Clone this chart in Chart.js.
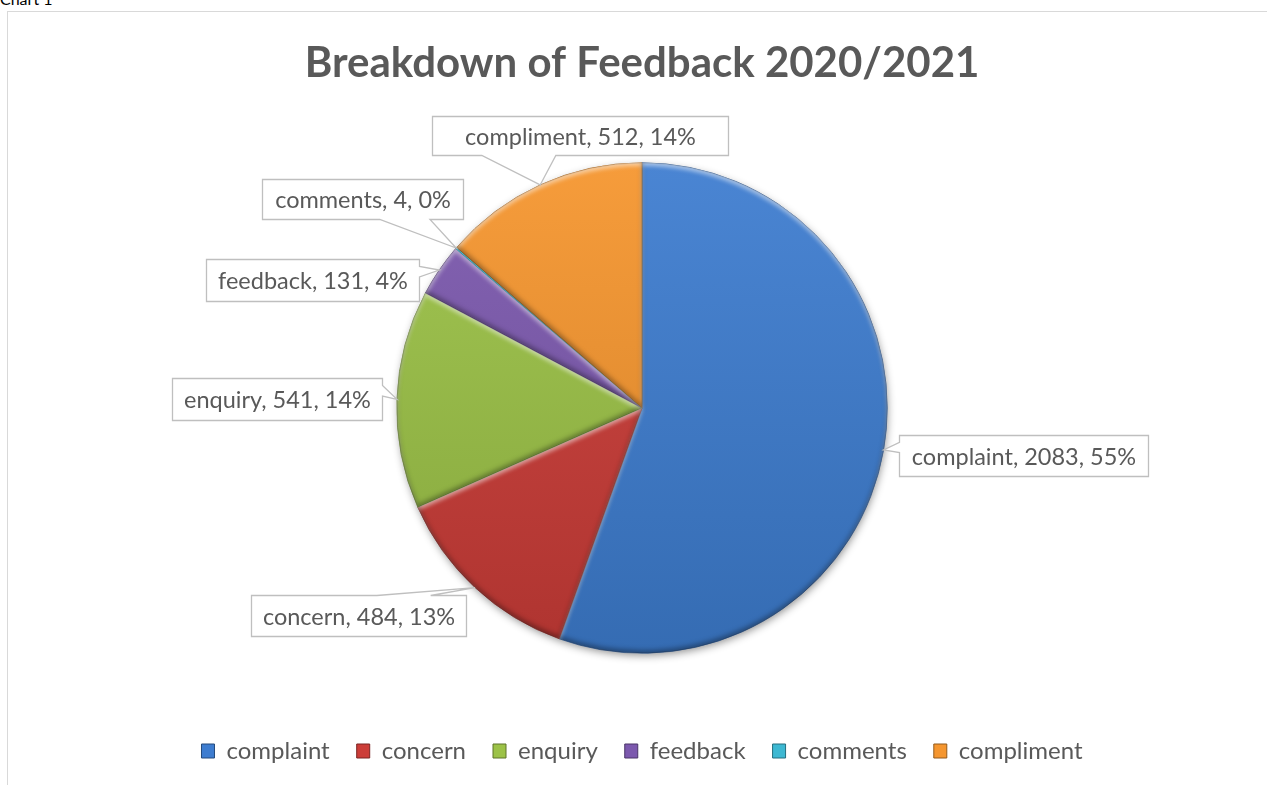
<!DOCTYPE html>
<html>
<head>
<meta charset="utf-8">
<title>Breakdown of Feedback 2020/2021</title>
<script src="https://cdn.jsdelivr.net/npm/chart.js@4.4.1/dist/chart.umd.min.js"></script>
<style>
    html, body { margin: 0; padding: 0; background: #fff; overflow: hidden; }
    body { width: 1267px; height: 785px; position: relative; }
    #caption { position: absolute; left: 0; top: -9px; font: 16px Lato, sans-serif; line-height: 16px; color: #000; }
    #frame { position: absolute; left: 7px; top: 11px; width: 1300px; height: 800px; border: 1px solid #d9d9d9; }
    #wrap { position: absolute; left: 8px; top: 12px; width: 1268px; height: 773px; }
</style>
</head>
<body>
<div id="caption">Chart 1</div>
<div id="frame"></div>
<div id="wrap"><canvas id="feedbackChart"></canvas></div>
<script>
const categories = ['complaint', 'concern', 'enquiry', 'feedback', 'comments', 'compliment'];
const counts = [2083, 484, 541, 131, 4, 512];
const sliceColors = ['#3e7dd0', '#cc3d38', '#9cc247', '#7c59ae', '#3db8d2', '#f5962f'];

// callout boxes: centre offset from the pie centre, and box size (px)
const calloutOffsets = [
    [381, 47], [-284, 207], [-365, -9], [-330, -128], [-280, -209], [-62, -273]
];
const calloutSizes = [
    [249, 41], [215, 41], [210, 42], [213, 42], [201, 40], [296, 39]
];

const textGrey = '#595959';
const fontFamily = 'Lato, "Open Sans", sans-serif';
const labelFont = '23.5px ' + fontFamily;

function shade(hex, amt) {
    let n = parseInt(hex.slice(1), 16);
    let r = n >> 16, g = (n >> 8) & 255, b = n & 255;
    const f = (c) => {
        let v = amt < 0 ? c * (1 + amt) : c + (255 - c) * amt;
        return Math.max(0, Math.min(255, Math.round(v)));
    };
    return 'rgb(' + f(r) + ',' + f(g) + ',' + f(b) + ')';
}

// Percentages rounded so they add up to 100 (largest remainder)
function roundedPercents(values) {
    const total = values.reduce((a, b) => a + b, 0);
    const raw = values.map((v) => v * 100 / total);
    const out = raw.map(Math.floor);
    let left = 100 - out.reduce((a, b) => a + b, 0);
    const order = raw.map((v, i) => [v - Math.floor(v), i]).sort((a, b) => b[0] - a[0]);
    for (let k = 0; k < left; k++) {
        out[order[k][1]]++;
    }
    return out;
}

const percents = roundedPercents(counts);

function wedgeCallout(ctx, l, t, w, h, tx, ty) {
    const cx = l + w / 2, cy = t + h / 2;
    const dx = tx - cx, dy = ty - cy;
    const dq = dx * h / w;
    ctx.beginPath();
    ctx.moveTo(l, t);
    if (Math.abs(dy) > Math.abs(dq)) {
        const x1 = l + w * (dx > 0 ? 7 : 2) / 12;
        const x2 = l + w * (dx > 0 ? 10 : 5) / 12;
        if (dy < 0) {
            ctx.lineTo(x1, t); ctx.lineTo(tx, ty); ctx.lineTo(x2, t);
        }
        ctx.lineTo(l + w, t);
        ctx.lineTo(l + w, t + h);
        if (dy > 0) {
            ctx.lineTo(x2, t + h); ctx.lineTo(tx, ty); ctx.lineTo(x1, t + h);
        }
        ctx.lineTo(l, t + h);
    } else {
        const y1 = t + h * (dy > 0 ? 7 : 2) / 12;
        const y2 = t + h * (dy > 0 ? 10 : 5) / 12;
        ctx.lineTo(l + w, t);
        if (dx > 0) {
            ctx.lineTo(l + w, y1); ctx.lineTo(tx, ty); ctx.lineTo(l + w, y2);
        }
        ctx.lineTo(l + w, t + h);
        ctx.lineTo(l, t + h);
        if (dx < 0) {
            ctx.lineTo(l, y2); ctx.lineTo(tx, ty); ctx.lineTo(l, y1);
        }
    }
    ctx.closePath();
}

function slicePath(ctx, arc) {
    ctx.beginPath();
    ctx.moveTo(arc.x, arc.y);
    ctx.arc(arc.x, arc.y, arc.outerRadius, arc.startAngle, arc.endAngle);
    ctx.closePath();
}

// soft shadow under the pie and a bevel on each slice
const bevelPlugin = {
    id: 'bevel',
    beforeDatasetsDraw(chart) {
        const arcs = chart.getDatasetMeta(0).data;
        if (!arcs.length) return;
        const a = arcs[0];
        const ctx = chart.ctx;
        ctx.save();
        ctx.shadowColor = 'rgba(0,0,0,0.45)';
        ctx.shadowBlur = 9;
        ctx.shadowOffsetX = 1;
        ctx.shadowOffsetY = 3;
        ctx.fillStyle = '#777';
        ctx.beginPath();
        ctx.arc(a.x, a.y, a.outerRadius - 1, 0, Math.PI * 2);
        ctx.fill();
        ctx.restore();
    },
    afterDatasetsDraw(chart) {
        const ctx = chart.ctx;
        const shift = 4000;
        chart.getDatasetMeta(0).data.forEach((arc) => {
            if (arc.endAngle - arc.startAngle < 0.02) return;
            // inner glow: the shadow of everything outside the slice, nudged up or down
            const inner = (color, oy, blur) => {
                ctx.save();
                slicePath(ctx, arc);
                ctx.clip();
                ctx.translate(0, -shift);
                ctx.beginPath();
                ctx.rect(arc.x - 1500, arc.y - 1500, 3000, 3000);
                ctx.moveTo(arc.x, arc.y);
                ctx.arc(arc.x, arc.y, arc.outerRadius, arc.startAngle, arc.endAngle);
                ctx.closePath();
                ctx.shadowColor = color;
                ctx.shadowBlur = blur;
                ctx.shadowOffsetX = 0;
                ctx.shadowOffsetY = shift + oy;
                ctx.fillStyle = '#000';
                ctx.fill('evenodd');
                ctx.restore();
            };
            inner('rgba(255,255,255,0.55)', 3, 4);
            inner('rgba(0,0,0,0.35)', -3, 5);
        });
    }
};

// data callouts: "name, count, pct%"
const calloutPlugin = {
    id: 'callouts',
    afterDraw(chart) {
        const ctx = chart.ctx;
        const arcs = chart.getDatasetMeta(0).data;
        ctx.save();
        ctx.font = labelFont;
        arcs.forEach((arc, i) => {
            const mid = (arc.startAngle + arc.endAngle) / 2;
            const tx = arc.x + Math.cos(mid) * arc.outerRadius;
            const ty = arc.y + Math.sin(mid) * arc.outerRadius;
            const text = categories[i] + ', ' + counts[i] + ', ' + percents[i] + '%';
            const w = Math.max(calloutSizes[i][0], Math.round(ctx.measureText(text).width + 16));
            const h = calloutSizes[i][1];
            const cx = arc.x + calloutOffsets[i][0];
            const cy = arc.y + calloutOffsets[i][1];
            const l = Math.round(cx - w / 2) + 0.5;
            const t = Math.round(cy - h / 2) + 0.5;
            wedgeCallout(ctx, l, t, w, h, tx, ty);
            ctx.fillStyle = '#fff';
            ctx.fill();
            ctx.strokeStyle = '#bfbfbf';
            ctx.lineWidth = 1.3;
            ctx.stroke();
            ctx.fillStyle = textGrey;
            ctx.textAlign = 'center';
            ctx.textBaseline = 'middle';
            ctx.fillText(text, l + w / 2, t + h / 2 + 1);
        });
        ctx.restore();
    }
};

function sliceFill(context) {
    const chart = context.chart;
    const area = chart.chartArea;
    const base = sliceColors[context.dataIndex];
    if (!area) return base;
    const g = chart.ctx.createLinearGradient(0, area.top, 0, area.bottom);
    g.addColorStop(0, shade(base, 0.06));
    g.addColorStop(1, shade(base, -0.14));
    return g;
}

const chart = new Chart(document.getElementById('feedbackChart'), {
    type: 'pie',
    data: {
        labels: categories,
        datasets: [{
            data: counts,
            backgroundColor: sliceFill,
            borderColor: sliceColors.map((c) => shade(c, -0.35)),
            borderWidth: 0.8,
        }]
    },
    options: {
        responsive: true,
        maintainAspectRatio: false,
        animation: false,
        rotation: 0,
        layout: { padding: { left: 0, right: 0, top: 0, bottom: 12 } },
        plugins: {
            title: {
                display: true,
                text: 'Breakdown of Feedback 2020/2021',
                color: textGrey,
                font: { family: fontFamily, size: 42, weight: 'bold', lineHeight: 1.2 },
                padding: { top: 26, bottom: 74 },
            },
            legend: {
                position: 'bottom',
                // empty legend title only opens a gap between the pie and the keys
                title: { display: true, text: '', padding: { top: 44, bottom: 0 } },
                labels: {
                    color: textGrey,
                    font: { family: fontFamily, size: 24 },
                    boxWidth: 13,
                    boxHeight: 14,
                    padding: 27,
                    generateLabels: () => categories.map((name, i) => ({
                        text: name,
                        fillStyle: sliceColors[i],
                        strokeStyle: shade(sliceColors[i], -0.4),
                        lineWidth: 1,
                        fontColor: textGrey,
                        hidden: false,
                        index: i,
                    })),
                },
                onClick: null,
            },
            tooltip: { enabled: false },
        },
    },
    plugins: [bevelPlugin, calloutPlugin],
});
</script>
</body>
</html>
